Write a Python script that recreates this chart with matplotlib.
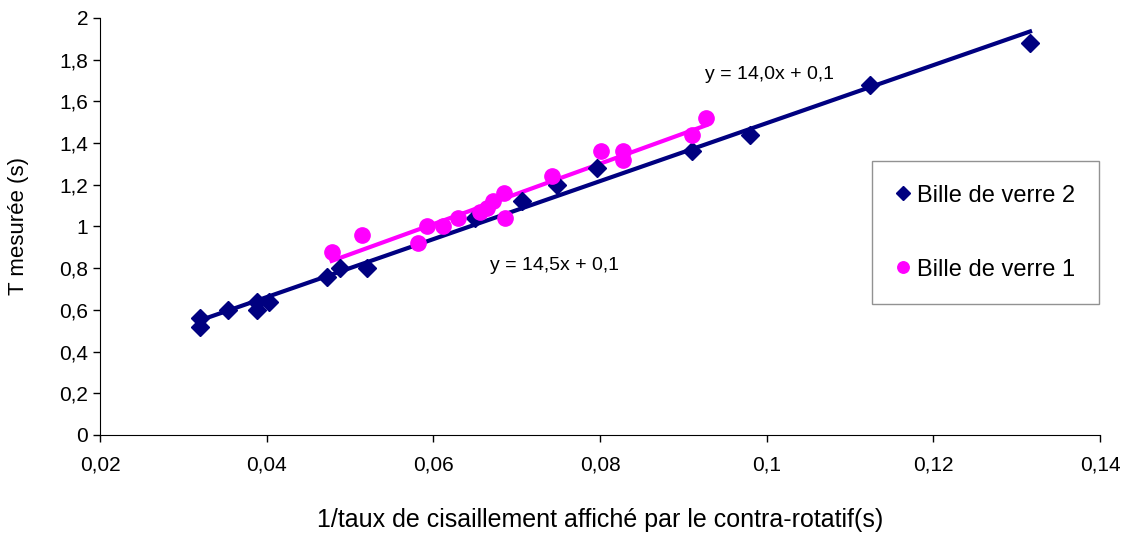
import matplotlib.pyplot as plt
import numpy as np

plt.rcParams['font.family'] = ['Liberation Sans', 'DejaVu Sans']

# Bille de verre 2 (navy diamonds)
x2 = [0.032, 0.032, 0.0354, 0.0388, 0.0388, 0.0403, 0.0472, 0.0488, 0.052,
      0.065, 0.0706, 0.0748, 0.0796, 0.091, 0.098, 0.1124, 0.1316]
y2 = [0.56, 0.52, 0.60, 0.64, 0.60, 0.64, 0.76, 0.80, 0.80,
      1.04, 1.12, 1.20, 1.28, 1.36, 1.44, 1.68, 1.88]

# Bille de verre 1 (magenta circles)
x1 = [0.0478, 0.0514, 0.0582, 0.0592, 0.0611, 0.063, 0.0656, 0.0664, 0.0672,
      0.0685, 0.0686, 0.0742, 0.0801, 0.0828, 0.0828, 0.091, 0.0927]
y1 = [0.88, 0.96, 0.92, 1.00, 1.00, 1.04, 1.07, 1.09, 1.12,
      1.16, 1.04, 1.24, 1.36, 1.36, 1.32, 1.44, 1.52]

eq2 = "y = 14,0x + 0,1"
eq1 = "y = 14,5x + 0,1"

navy = '#000080'
pink = '#FF00FF'

fig = plt.figure(figsize=(11.35, 5.34), dpi=100)
ax = fig.add_axes([0.0881, 0.1854, 0.8811, 0.7809])

# trend lines
p2 = np.polyfit(x2, y2, 1)
xs2 = np.array([min(x2), max(x2)])
ax.plot(xs2, np.polyval(p2, xs2), color=navy, lw=3, zorder=2)
p1 = np.polyfit(x1, y1, 1)
xs1 = np.array([min(x1), max(x1)])
ax.plot(xs1, np.polyval(p1, xs1), color=pink, lw=3, zorder=2)

ax.plot(x2, y2, 'D', color=navy, ms=9, ls='none', label='Bille de verre 2', zorder=3)
ax.plot(x1, y1, 'o', color=pink, ms=11, ls='none', label='Bille de verre 1', zorder=3)

ax.text(0.0926, 1.727, eq2, fontsize=14, va='center')
ax.text(0.0668, 0.815, eq1, fontsize=14, va='center')

ax.set_xlim(0.02, 0.14)
ax.set_ylim(0, 2)
xt = np.arange(0.02, 0.141, 0.02)
yt = np.arange(0, 2.01, 0.2)
ax.set_xticks(xt)
ax.set_yticks(yt)
ax.set_xticklabels([f"{v:.2f}".rstrip('0').replace('.', ',') for v in xt])
ax.set_yticklabels(["0" if v == 0 else (f"{v:.1f}".rstrip('0').rstrip('.').replace('.', ',')) for v in yt])
ax.tick_params(labelsize=15, direction='out', length=5, width=1)
ax.tick_params(axis='x', pad=10)
for s in ['top', 'right']:
    ax.spines[s].set_visible(False)

ax.set_xlabel("1/taux de cisaillement affiché par le contra-rotatif(s)", fontsize=18, labelpad=24)
ax.set_ylabel("T mesurée (s)", fontsize=16, labelpad=22)

leg = ax.legend(loc='upper right', bbox_to_anchor=(0.999, 0.657), fontsize=17,
                frameon=True, fancybox=False, edgecolor='#777777',
                handlelength=0.6, handletextpad=0.3, labelspacing=2.2,
                borderpad=1.0, borderaxespad=0, markerscale=0.75)
leg.get_frame().set_linewidth(1)

plt.savefig("out.png", dpi=100)
